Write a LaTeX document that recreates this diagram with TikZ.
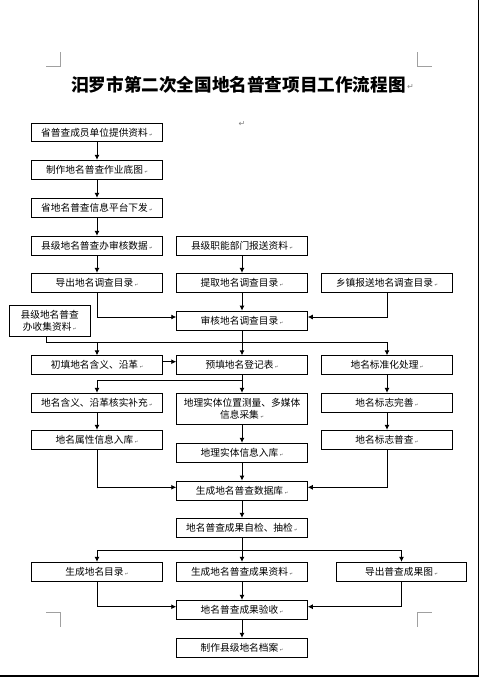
\documentclass[tikz,border=0pt]{standalone}
\usepackage{fontspec}
\usetikzlibrary{arrows.meta,positioning}
\newfontfamily\cjk{Noto Sans CJK SC}
\newfontfamily\symfont{DejaVu Sans}
\definecolor{markgray}{HTML}{A0A0A0}
\newcommand{\parmk}{\,{\symfont\fontsize{4}{4}\selectfont\color{darkgray}↵}}
\tikzset{
  x=1pt, y=-1pt,
  box/.style={draw=black, line width=0.9pt, rectangle, minimum width=130.6pt, minimum height=19pt, inner sep=0pt, font=\cjk\fontsize{9.7}{11.7}\selectfont, align=center},
  conn/.style={line width=0.9pt},
  arr/.style={line width=0.9pt, -{Latex[length=5pt,width=5pt]}},
  crop/.style={draw=markgray, line width=0.8pt}
}
\begin{document}
\begin{tikzpicture}
\useasboundingbox (0,0) rectangle (480,677);
% page frame
\draw[line width=1.2pt] (478.5,0) -- (478.5,676) -- (0,676);
% crop marks
\draw[crop] (46,66.3) -- (60.3,66.3) -- (60.3,52.3);
\draw[crop] (417.7,52.3) -- (417.7,66.3) -- (431.7,66.3);
\draw[crop] (46,612.7) -- (60.3,612.7) -- (60.3,626.7);
\draw[crop] (417.7,626.7) -- (417.7,612.7) -- (431.7,612.7);
% title
\node[font=\cjk\bfseries\fontsize{17.6}{20}\selectfont, inner sep=0pt] (title) at (238.5,85) {汨罗市第二次全国地名普查项目工作流程图};
\node[right=1pt of title.east, inner sep=0pt, font=\symfont\fontsize{8}{8}\selectfont, text=gray, yshift=-2pt] (tmark) {↵};
\node[inner sep=0pt, font=\symfont\fontsize{8}{8}\selectfont, text=gray] (pmark) at (242,124) {↵};
% boxes
\node[box, minimum height=18.4pt] (b1) at (97,132.5) {省普查成员单位提供资料\parmk};
\node[box] (b2) at (97,169.8) {制作地名普查作业底图\parmk};
\node[box] (b3) at (97,207.8) {省地名普查信息平台下发\parmk};
\node[box] (b4L) at (97,245.8) {县级地名普查办审核数据\parmk};
\node[box] (b4M) at (242,245.8) {县级职能部门报送资料\parmk};
\node[box, minimum height=18.7pt] (r5L) at (97,282.7) {导出地名调查目录\parmk};
\node[box, minimum height=18.7pt] (r5M) at (242,282.7) {提取地名调查目录\parmk};
\node[box, minimum height=18.7pt] (r5R) at (387,282.7) {乡镇报送地名调查目录\parmk};
\node[box, minimum width=80.7pt, minimum height=30.6pt] (county) at (49.7,321) {县级地名普查\\办收集资料\parmk};
\node[box, minimum height=19.3pt] (review) at (242,320.7) {审核地名调查目录\parmk};
\node[box, minimum height=18.3pt] (r7L) at (97,364.9) {初填地名含义、沿革\parmk};
\node[box, minimum height=18.3pt] (r7M) at (242,364.9) {预填地名登记表\parmk};
\node[box, minimum height=18.3pt] (r7R) at (387,364.9) {地名标准化处理\parmk};
\node[box] (r8L) at (97,402.8) {地名含义、沿革核实补充\parmk};
\node[box, minimum height=31pt] (r8M) at (242,408.8) {地理实体位置测量、多媒体\\信息采集\parmk};
\node[box] (r8R) at (387,402.8) {地名标志完善\parmk};
\node[box] (r9L) at (97,439.8) {地名属性信息入库\parmk};
\node[box] (r9M) at (242,452.8) {地理实体信息入库\parmk};
\node[box] (r9R) at (387,439.8) {地名标志普查\parmk};
\node[box] (db) at (242,490.5) {生成地名普查数据库\parmk};
\node[box] (check) at (242,527.8) {地名普查成果自检、抽检\parmk};
\node[box] (r11L) at (97,571.8) {生成地名目录\parmk};
\node[box] (r11M) at (242,571.8) {生成地名普查成果资料\parmk};
\node[box, minimum width=130.4pt] (r11R) at (401.5,571.8) {导出普查成果图\parmk};
\node[box] (accept) at (242,609.8) {地名普查成果验收\parmk};
\node[box] (archive) at (242,647.8) {制作县级地名档案\parmk};
% bus coordinates
\coordinate (busA) at (0,342.3);
\coordinate (busB) at (0,380.7);
\coordinate (busC) at (0,550.3);
% connectors
\draw[arr] (b1) -- (b2);
\draw[arr] (b2) -- (b3);
\draw[arr] (b3) -- (b4L);
\draw[arr] (b4L) -- (r5L);
\draw[arr] (b4M) -- (r5M);
\draw[arr] (r5M) -- (review);
\draw[arr] (r5L.south) |- ([yshift=3.7pt]review.west);
\draw[arr] (r5R.south) |- ([yshift=3.7pt]review.east);
\draw[conn] ([xshift=-3pt]county.south) |- (r7R.north |- busA);
\draw[conn] (review.south) -- (review.south |- busA);
\draw[arr] (r7L.north |- busA) -- (r7L.north);
\draw[arr] (r7M.north |- busA) -- (r7M.north);
\draw[arr] (r7R.north |- busA) -- (r7R.north);
\draw[arr] ([yshift=3.2pt]r7L.east) -- ([yshift=3.2pt]r7M.west);
\draw[conn] (r7M.south) -- (r7M.south |- busB) -- (r8L.north |- busB);
\draw[arr] (r8L.north |- busB) -- (r8L.north);
\draw[arr] (r8M.north |- busB) -- (r8M.north);
\draw[arr] (r7R) -- (r8R);
\draw[arr] (r8L) -- (r9L);
\draw[arr] (r8M) -- (r9M);
\draw[arr] (r8R) -- (r9R);
\draw[arr] (r9M) -- (db);
\draw[arr] (r9L.south) |- ([yshift=3.2pt]db.west);
\draw[arr] (r9R.south) |- ([yshift=3.2pt]db.east);
\draw[arr] (db) -- (check);
\draw[conn] (check.south) -- (check.south |- busC);
\draw[conn] (r11L.north |- busC) -- (r11R.north |- busC);
\draw[arr] (r11L.north |- busC) -- (r11L.north);
\draw[arr] (r11M.north |- busC) -- (r11M.north);
\draw[arr] (r11R.north |- busC) -- (r11R.north);
\draw[arr] (r11M) -- (accept);
\draw[arr] (r11L.south) |- ([yshift=3.1pt]accept.west);
\draw[arr] (r11R.south) |- ([yshift=3.1pt]accept.east);
\draw[arr] (accept) -- (archive);
\end{tikzpicture}
\end{document}
